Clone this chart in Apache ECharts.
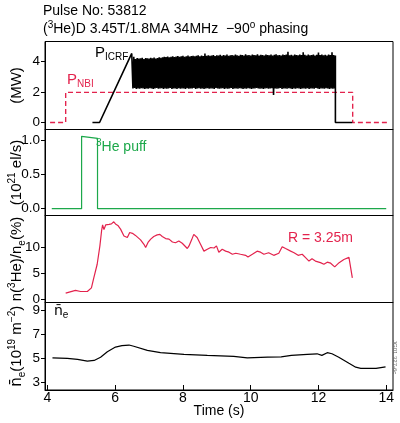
<!DOCTYPE html>
<html><head><meta charset="utf-8">
<script src="https://cdn.jsdelivr.net/npm/echarts@6/dist/echarts.min.js"></script>
<style>html,body{margin:0;padding:0;background:#fff}#c{width:400px;height:423px}</style>
</head><body><div id="c"></div>
<script>
// ---- data ----
const xTicks = [4, 6, 8, 10, 12, 14];
const p1Ticks = [0, 2, 4];
const p2Ticks = [0, 0.5, 1.0];
const p3Ticks = [0, 5, 10];
const p4Ticks = [3, 5, 7, 9];

const nbiT = [4.08, 4.54, 4.54, 13.01, 13.01, 14.03];
const nbiV = [0, 0, 1.97, 1.97, 0, 0];

const icrfRampT = [5.33, 5.54, 6.49];
const icrfRampV = [0, 0, 4.52];
const icrfStart = 6.5, icrfStep = 0.05;
const icrfHi = [
4.52,4.30,4.15,4.22,4.18,4.20,4.24,4.16,4.22,4.20,
4.18,4.23,4.20,4.25,4.19,4.22,4.27,4.24,4.26,4.30,
4.28,4.32,4.27,4.30,4.34,4.29,4.31,4.35,4.30,4.33,
4.36,4.30,4.34,4.38,4.32,4.35,4.37,4.33,4.36,4.40,
4.34,4.38,4.35,4.52,4.37,4.40,4.36,4.39,4.42,4.35,
4.40,4.38,4.43,4.36,4.41,4.39,4.44,4.37,4.40,4.42,
4.38,4.45,4.40,4.37,4.43,4.41,4.39,4.46,4.40,4.42,
4.38,4.44,4.41,4.40,4.47,4.39,4.43,4.42,4.38,4.45,
4.41,4.40,4.44,4.39,4.43,4.46,4.40,4.42,4.38,4.44,
4.41,4.45,4.62,4.40,4.43,4.39,4.44,4.42,4.40,4.45,
4.41,4.60,4.43,4.39,4.44,4.40,4.42,4.45,4.38,4.43,
4.58,4.41,4.44,4.40,4.43,4.39,4.45,4.42,4.60,4.41,
4.38];
const icrfLo = [
2.22,2.25,2.20,2.23,2.21,2.24,2.22,2.19,2.23,2.21,
2.24,2.22,2.20,2.23,2.25,2.21,2.22,2.24,2.20,2.23,
2.21,2.22,2.25,2.20,2.23,2.22,2.19,2.24,2.21,2.23,
2.22,2.20,2.24,2.21,2.23,2.22,2.25,2.20,2.22,2.24,
2.21,2.23,2.20,2.22,2.24,2.21,2.23,2.22,2.20,2.25,
2.22,2.21,2.23,2.24,2.20,2.22,2.21,2.23,2.25,2.20,
2.23,2.22,2.21,2.24,2.22,2.20,2.23,2.21,2.24,2.22,
2.20,2.23,2.22,2.25,2.22,2.21,2.23,2.20,2.22,2.24,
2.21,2.22,2.24,1.80,2.23,2.21,2.22,2.25,2.20,2.23,
2.22,2.21,2.24,2.22,2.20,2.23,2.21,2.24,2.22,2.20,
2.23,2.22,2.21,2.24,2.20,2.22,2.23,2.21,2.25,2.22,
2.20,2.23,2.22,2.21,2.24,2.22,2.20,2.23,2.21,2.22];
const icrfEndT = [12.5, 12.5, 13.0];
const icrfEndV = [2.2, 0, 0];

const puffT = [4.13, 5.01, 5.01, 5.48, 5.48, 14.0];
const puffV = [0, 0, 1.06, 1.03, 0, 0];

const he3T = [4.54,4.83,4.98,5.18,5.30,5.37,5.47,5.55,5.60,5.63,5.67,5.72,5.82,5.89,5.96,6.01,6.08,6.16,6.26,6.36,6.43,6.51,6.60,6.75,6.85,6.90,6.97,7.05,7.14,7.24,7.32,7.39,7.49,7.59,7.69,7.78,7.88,7.98,8.13,8.18,8.26,8.32,8.37,8.42,8.52,8.62,8.72,8.82,8.92,8.99,9.06,9.16,9.26,9.36,9.46,9.56,9.70,9.85,9.92,10.05,10.19,10.29,10.39,10.53,10.68,10.83,10.93,11.03,11.18,11.28,11.40,11.52,11.62,11.72,11.81,11.91,12.06,12.16,12.26,12.36,12.48,12.61,12.75,12.90,12.95,13.00];
const he3V = [1.2,1.7,1.5,1.5,2.2,4.1,6.7,10.2,13.1,14.2,13.3,14.2,14.3,14.4,14.8,14.4,14.1,13.4,12.1,11.8,12.75,12.6,12.2,11.35,10.5,9.9,10.85,11.5,12.0,12.3,12.4,12.0,11.6,11.5,10.95,10.8,11.15,10.7,9.7,10.2,11.4,12.4,12.75,11.8,10.5,9.2,9.55,9.9,9.8,10.2,9.0,9.55,9.2,9.0,8.6,8.8,8.6,8.4,8.1,8.6,9.2,9.0,8.6,8.9,8.4,8.8,10.05,9.7,9.2,8.9,8.4,8.6,7.95,7.3,7.75,7.3,7.0,6.7,7.1,6.9,6.2,7.0,7.6,8.0,7.7,4.1];

const neT = [4.15,4.59,4.89,5.18,5.38,5.57,5.77,6.01,6.20,6.41,6.55,6.95,7.34,8.03,8.72,9.5,9.9,10.5,10.9,11.2,11.67,11.96,12.1,12.26,12.4,12.6,12.9,13.1,13.25,13.7,13.98];
const neV = [5.05,5.0,4.92,4.78,4.83,5.1,5.55,5.93,6.05,6.1,6.0,5.66,5.47,5.33,5.25,5.17,5.05,5.1,5.13,5.25,5.33,5.38,5.25,5.47,5.38,5.1,4.6,4.28,4.18,4.18,4.31];

// ---- build ----
const zip = (t, v) => t.map((x, i) => [x, v[i]]);
const icrfData = zip(icrfRampT, icrfRampV);
icrfHi.forEach((h, i) => {
  icrfData.push([icrfStart + i * icrfStep, h]);
  if (i < icrfLo.length) icrfData.push([icrfStart + (i + 0.5) * icrfStep, icrfLo[i]]);
});
icrfData.push(...zip(icrfEndT, icrfEndV));

const RED = '#e3234d', GREEN = '#1ca84a';
const FONT = 'Liberation Sans';
const grids = [
  {top: 41.5, height: 88},
  {top: 129.5, height: 86},
  {top: 215.5, height: 87},
  {top: 302.5, height: 87.5}
].map(g => ({left: 45, right: 7, top: g.top, height: g.height, show: true, borderColor: '#000', borderWidth: 1,
  backgroundColor: 'transparent', containLabel: false, outerBoundsMode: 'none'}));

const yDefs = [
  {min: -0.46, max: 5.3, ticks: p1Ticks, fmt: v => String(v), name: '(MW)'},
  {min: -0.1, max: 1.16, ticks: p2Ticks, fmt: v => v.toFixed(1), name: '(10{s|21} el/s)'},
  {min: -0.6, max: 16, ticks: p3Ticks, fmt: v => String(v), name: 'n({s|3}He)/n{b|e}(%)'},
  {min: 2.4, max: 9.6, ticks: p4Ticks, fmt: v => String(v), name: '{o|n\u0304}{b|e}(10{s|19} m{s|\u22122})'}
];
const rich = {
  s: {fontSize: 10, verticalAlign: 'top', lineHeight: 20, fontFamily: FONT, color: '#000'},
  b: {fontSize: 10, verticalAlign: 'bottom', lineHeight: 20, fontFamily: FONT, color: '#000'},
  o: {fontSize: 15, lineHeight: 20, fontFamily: 'DejaVu Sans', color: '#000'}
};

const xAxes = grids.map((g, i) => ({
  gridIndex: i, type: 'value', min: 3.93, max: 14.2,
  axisLine: {show: true, onZero: false, lineStyle: {color: '#000', width: 1}},
  axisTick: {show: i === 3, inside: true, length: 5, customValues: xTicks, lineStyle: {color: '#000'}},
  axisLabel: {show: i === 3, customValues: xTicks, color: '#000', fontSize: 14, fontFamily: FONT, margin: 1},
  splitLine: {show: false},
  name: i === 3 ? 'Time (s)' : '', nameLocation: 'middle', nameGap: 14, nameMoveOverlap: false,
  nameTextStyle: {color: '#000', fontSize: 14, fontFamily: FONT}
}));
const yAxes = yDefs.map((d, i) => ({
  gridIndex: i, type: 'value', min: d.min, max: d.max,
  axisLine: {show: true, onZero: false, lineStyle: {color: '#000', width: 1}},
  axisTick: {show: true, inside: false, length: 4, customValues: d.ticks, lineStyle: {color: '#000'}},
  axisLabel: {customValues: d.ticks, formatter: d.fmt, color: '#000', fontSize: 13.5, fontFamily: FONT, margin: 5},
  splitLine: {show: false},
  name: d.name, nameLocation: 'middle', nameRotate: 90, nameGap: 18, nameMoveOverlap: false,
  nameTextStyle: {color: '#000', fontSize: 15, fontFamily: FONT, lineHeight: 20, rich: rich}
}));

const lineSeries = (data, xi, color, extra) => Object.assign({
  type: 'line', xAxisIndex: xi, yAxisIndex: xi, data: data, symbol: 'none', animation: false,
  lineStyle: {color: color, width: 1.2}, silent: true
}, extra || {});

const series = [
  lineSeries(zip(nbiT, nbiV), 0, RED, {lineStyle: {color: RED, width: 1.4, type: [5, 3]}}),
  lineSeries(icrfData, 0, '#000', {lineStyle: {color: '#000', width: 1.6}}),
  lineSeries(zip(puffT, puffV), 1, GREEN),
  lineSeries(zip(he3T, he3V), 2, RED),
  lineSeries(zip(neT, neV), 3, '#000')
];

const txt = (left, top, text, size, color, subSize) => ({
  type: 'text', left: left, top: top,
  style: {text: text, fontSize: size, fontFamily: FONT, fill: color,
    rich: {
      s: {fontSize: subSize || size - 4, verticalAlign: 'top', lineHeight: size + 4, fontFamily: FONT, fill: color},
      b: {fontSize: subSize || size - 4, verticalAlign: 'bottom', lineHeight: size + 4, fontFamily: FONT, fill: color},
      n: {fontSize: size, lineHeight: size + 4, fontFamily: FONT, fill: color},
      o: {fontSize: size, lineHeight: size + 4, fontFamily: 'DejaVu Sans', fill: color}
    }}
});

const graphic = [
  txt(43, 4, 'Pulse No: 53812', 14, '#000'),
  txt(43, 20, '{n|(}{s|3}{n|He)D 3.45T/1.8MA 34MHz  \u221290}{s|o}{n| phasing}', 14, '#000'),
  txt(95, 45, '{n|P}{b|ICRF}', 15, '#000', 10),
  txt(67, 72, '{n|P}{b|NBI}', 15, RED, 10),
  txt(96, 138, '{s|3}{n|He puff}', 14, GREEN),
  txt(288, 231, 'R = 3.25m', 14, RED),
  txt(54, 304, '{o|n\u0304}{b|e}', 14, '#000'),
  {type: 'text', left: 392, top: 340, rotation: -Math.PI / 2, style: {text: 'JG01.327-6c', fontSize: 6, fontFamily: FONT, fill: '#666'}}
];

const chart = echarts.init(document.getElementById('c'), null, {renderer: 'canvas'});
chart.setOption({
  animation: false,
  backgroundColor: '#fff',
  grid: grids, xAxis: xAxes, yAxis: yAxes, series: series, graphic: graphic
});
</script></body></html>
